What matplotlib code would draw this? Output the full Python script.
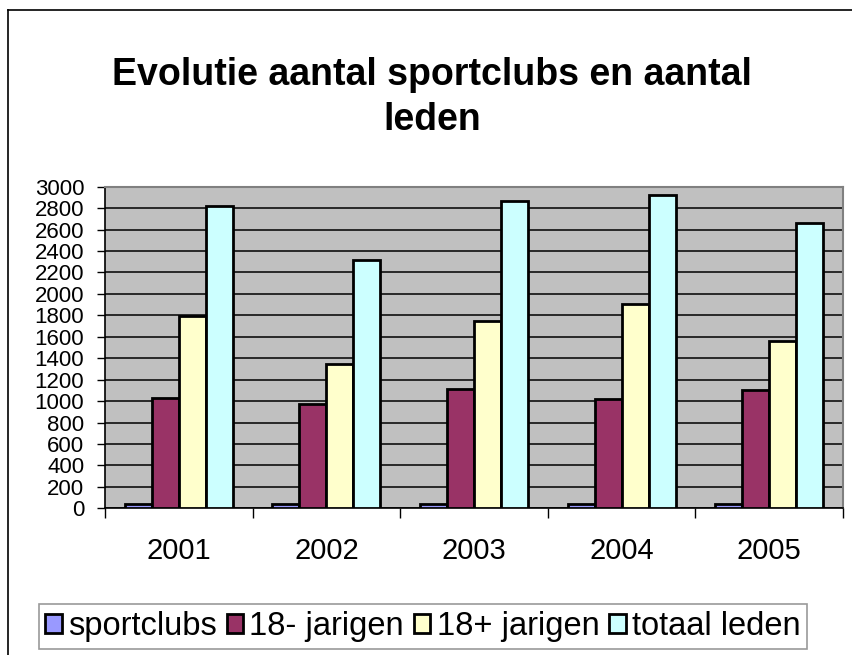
import numpy as np
import matplotlib
matplotlib.use('Agg')
import matplotlib.pyplot as plt
from matplotlib.lines import Line2D

plt.rcParams['font.family'] = ['Liberation Sans', 'DejaVu Sans']

years = ['2001', '2002', '2003', '2004', '2005']
sportclubs = [43, 43, 43, 43, 43]
jarigen_min = [1030, 975, 1115, 1015, 1102]
jarigen_plus = [1790, 1342, 1748, 1903, 1560]
totaal = [2820, 2317, 2863, 2920, 2665]

series = [sportclubs, jarigen_min, jarigen_plus, totaal]
labels = ['sportclubs', '18- jarigen', '18+ jarigen', 'totaal leden']
colors = ['#9999FF', '#993366', '#FFFFCC', '#CCFFFF']

fig = plt.figure(figsize=(8.52, 6.55), dpi=100)
ax = fig.add_axes([105/852, 1-508.3/655, (843-105)/852, (508.3-186.7)/655])
ax.set_facecolor('#C0C0C0')

x = np.arange(len(years))
w = 0.183
for k in range(4):
    ax.bar(x + (k-1.5)*w, series[k], w, color=colors[k], edgecolor='black',
           linewidth=2.0, label=labels[k], zorder=3)

ax.set_xlim(-0.5, 4.5)
ax.set_ylim(0, 3000)
ax.set_yticks(np.arange(0, 3001, 200))
ax.yaxis.grid(True, color='black', linewidth=1.1, zorder=1)
ax.set_axisbelow(True)
ax.tick_params(axis='y', direction='out', length=6, width=1, pad=9, labelsize=16)

ax.set_xticks(np.arange(-0.5, 5, 1))
ax.set_xticklabels([])
ax.set_xticks(x, minor=True)
ax.set_xticklabels(years, minor=True)
ax.tick_params(axis='x', which='major', direction='out', length=7, width=1)
ax.tick_params(axis='x', which='minor', length=0, pad=21, labelsize=21)

for s in ['top', 'right']:
    ax.spines[s].set_color('#808080')
    ax.spines[s].set_linewidth(1.5)
for s in ['left', 'bottom']:
    ax.spines[s].set_color('black')
    ax.spines[s].set_linewidth(1.2)

fig.text(0.507, 0.851, 'Evolutie aantal sportclubs en aantal\nleden', ha='center', va='center',
         fontsize=27, fontweight='bold', linespacing=1.3)

leg = fig.legend(loc='center', bbox_to_anchor=(423/852, 1-626.5/655), ncol=4,
                 fontsize=23.5, frameon=True, fancybox=False, handlelength=0.5, handleheight=0.5,
                 handletextpad=0.2, columnspacing=0.3, borderpad=0.2, borderaxespad=0)
leg.get_frame().set_edgecolor('#808080')
leg.get_frame().set_linewidth(1.2)

# chart border
fig.add_artist(Line2D([8/852, 8/852], [0, 1-10/655], transform=fig.transFigure, color='black', linewidth=1.2))
fig.add_artist(Line2D([8/852, 1], [1-10/655, 1-10/655], transform=fig.transFigure, color='black', linewidth=1.2))

fig.savefig('out.png', dpi=100)
